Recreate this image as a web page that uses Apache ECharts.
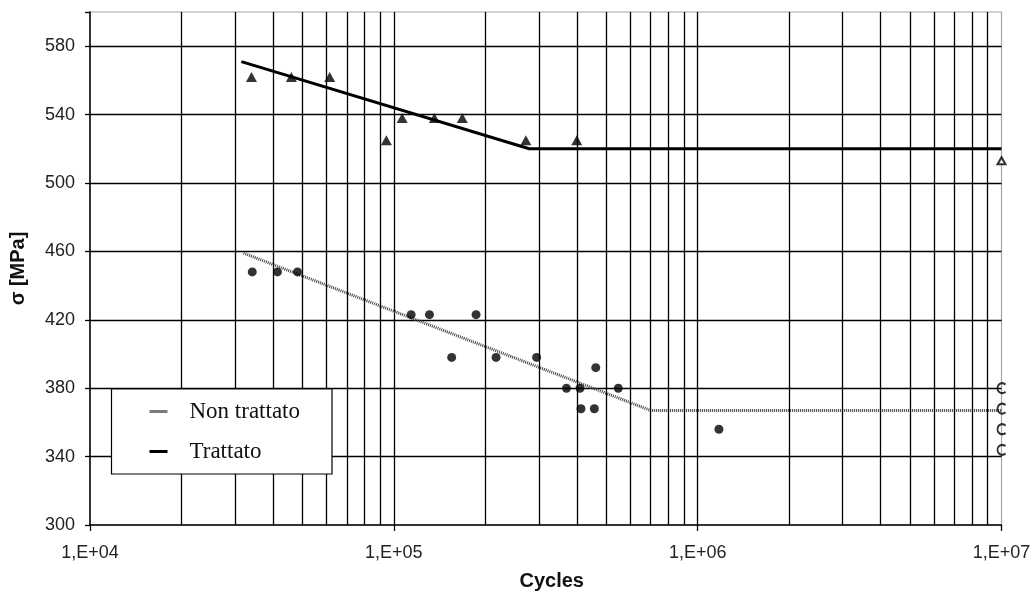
<!DOCTYPE html>
<html>
<head>
<meta charset="utf-8">
<title>σ – Cycles</title>
<script src="https://cdn.jsdelivr.net/npm/echarts@6/dist/echarts.min.js"></script>
<style>
  html, body { margin: 0; padding: 0; background: #fff; }
  #chart { width: 1035px; height: 596px; }
</style>
</head>
<body>
<div id="chart"></div>
<script>
// Decade tick labels on the cycles axis
const xTickLabels = ['1,E+04', '1,E+05', '1,E+06', '1,E+07'];

// Trattato: test results (cycles, stress in MPa)
const trattatoCycles = [34000, 46000, 61500, 94500, 106500, 136000, 168000, 272000, 400000];
const trattatoStress = [562, 562, 562, 525, 538, 538, 538, 525, 525];
// Trattato: run-out at 1E+07
const trattatoRunoutCycles = [10000000];
const trattatoRunoutStress = [513];
// Trattato: fitted curve
const trattatoFitCycles = [31500, 279000, 10000000];
const trattatoFitStress = [571, 520, 520];

// Non trattato: test results
const nonTrattatoCycles = [34200, 41400, 48200, 114000, 131000, 186500, 155000, 217000, 295000,
                           370000, 410000, 462000, 548000, 413000, 457000, 1175000];
const nonTrattatoStress = [448, 448, 448, 423, 423, 423, 398, 398, 398,
                           380, 380, 392, 380, 368, 368, 356];
// Non trattato: run-outs at 1E+07
const nonTrattatoRunoutCycles = [10000000, 10000000, 10000000, 10000000];
const nonTrattatoRunoutStress = [380, 368, 356, 344];
// Non trattato: fitted curve
const nonTrattatoFitCycles = [32000, 700000, 10000000];
const nonTrattatoFitStress = [459, 367, 367];

const zip = (xs, ys) => xs.map((x, i) => [x, ys[i]]);

// Minor log grid lines: 2..9 times each decade
const minorGrid = [];
for (let e = 4; e < 7; e++) {
  for (let m = 2; m <= 9; m++) minorGrid.push({ xAxis: m * Math.pow(10, e) });
}

// Open "C" marker used for the run-outs of the untreated series
const cMarker = 'path://M15.66,4.34 A8,8 0 1,0 15.66,15.66';

const chart = echarts.init(document.getElementById('chart'));
chart.setOption({
  animation: false,
  backgroundColor: '#fff',
  textStyle: { fontFamily: 'Liberation Sans, Arial, sans-serif' },
  grid: {
    left: 88, right: 33.5, top: 12, bottom: 67.5,
    show: true, borderColor: '#a6a6a6', borderWidth: 1.2, backgroundColor: 'transparent'
  },
  legend: {
    orient: 'vertical',
    left: 111.5, top: 389,
    z: 20,
    backgroundColor: '#fff',
    borderColor: '#000', borderWidth: 1.2, borderRadius: 0,
    padding: [11, 32, 11, 38],
    itemGap: 17,
    itemWidth: 18, itemHeight: 3,
    textStyle: { fontFamily: 'Liberation Serif, Times New Roman, serif', fontSize: 23, color: '#111', padding: [0, 0, 0, 17] },
    data: [
      { name: 'Non trattato', icon: 'rect', itemStyle: { color: '#7a7a7a' } },
      { name: 'Trattato', icon: 'rect', itemStyle: { color: '#000' } }
    ]
  },
  xAxis: {
    type: 'log', logBase: 10, min: 10000, max: 10000000,
    name: 'Cycles', nameLocation: 'middle', nameGap: 46,
    nameTextStyle: { fontSize: 20, fontWeight: 'bold', color: '#111', padding: [0, 0, 0, 12] },
    axisLine: { lineStyle: { color: '#000', width: 1.5 } },
    axisTick: { show: true, inside: false, length: 6, lineStyle: { color: '#000', width: 1.3 } },
    axisLabel: {
      margin: 19, fontSize: 18, color: '#222',
      formatter: v => xTickLabels[Math.round(Math.log10(v)) - 4]
    },
    splitLine: { show: true, showMinLine: false, showMaxLine: false, lineStyle: { color: '#000', width: 1.3 } }
  },
  yAxis: {
    type: 'value', min: 300, max: 600, interval: 40,
    name: 'σ [MPa]', nameLocation: 'middle', nameRotate: 90, nameGap: 62,
    nameTextStyle: { fontSize: 20, fontWeight: 'bold', color: '#111' },
    axisLine: { show: true, lineStyle: { color: '#000', width: 1.5 } },
    axisTick: { show: true, inside: false, length: 5, lineStyle: { color: '#000', width: 1.3 } },
    axisLabel: {
      margin: 15, fontSize: 18, color: '#222',
      formatter: v => (v === 600 ? '' : String(v))
    },
    splitLine: { show: true, showMinLine: false, showMaxLine: false, lineStyle: { color: '#000', width: 1.3 } }
  },
  series: [
    {
      name: 'grid minor', type: 'scatter', data: [], z: 1, silent: true,
      markLine: {
        silent: true, symbol: 'none', label: { show: false },
        lineStyle: { color: '#000', width: 1.3, type: 'solid' },
        data: minorGrid
      }
    },
    {
      name: 'Non trattato', type: 'line', z: 3,
      data: zip(nonTrattatoFitCycles, nonTrattatoFitStress),
      showSymbol: false, symbol: 'none',
      itemStyle: { color: '#7a7a7a' },
      lineStyle: { color: '#444', width: 3, type: [1, 1] }
    },
    {
      name: 'Trattato', type: 'line', z: 3,
      data: zip(trattatoFitCycles, trattatoFitStress),
      showSymbol: false, symbol: 'none',
      itemStyle: { color: '#000' },
      lineStyle: { color: '#000', width: 3 }
    },
    {
      name: 'Non trattato prove', type: 'scatter', z: 4, clip: false,
      data: zip(nonTrattatoCycles, nonTrattatoStress),
      symbol: 'circle', symbolSize: 9,
      itemStyle: { color: '#000' }
    },
    {
      name: 'Trattato prove', type: 'scatter', z: 4, clip: false,
      data: zip(trattatoCycles, trattatoStress),
      symbol: 'triangle', symbolSize: [11, 10],
      itemStyle: { color: '#000' }
    },
    {
      name: 'Non trattato run-out', type: 'scatter', z: 4, clip: false,
      data: zip(nonTrattatoRunoutCycles, nonTrattatoRunoutStress),
      symbol: cMarker, symbolSize: [8, 10],
      itemStyle: { color: 'rgba(0,0,0,0)', borderColor: '#000', borderWidth: 2 }
    },
    {
      name: 'Trattato run-out', type: 'scatter', z: 4, clip: false,
      data: zip(trattatoRunoutCycles, trattatoRunoutStress),
      symbol: 'emptyTriangle', symbolSize: [8, 7],
      itemStyle: { color: '#000', borderColor: '#000', borderWidth: 1.5 }
    }
  ]
});
</script>
</body>
</html>
